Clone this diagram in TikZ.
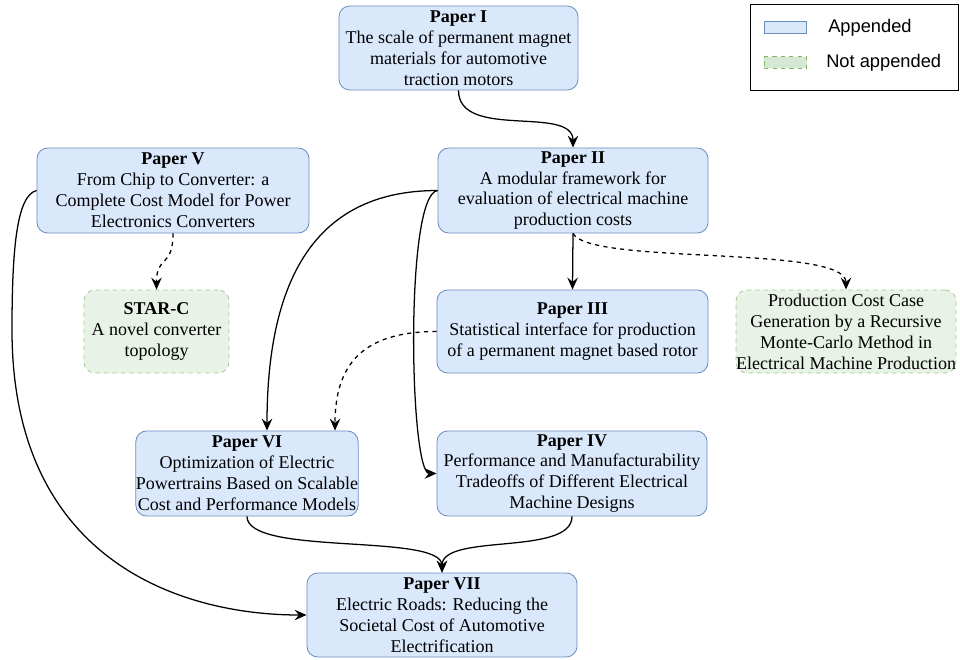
\documentclass[tikz,border=0pt]{standalone}
\usepackage{fontspec}
\setmainfont{Liberation Serif}
\setsansfont{Liberation Sans}
\usepackage{xcolor}
\usepackage{tikz}
\usetikzlibrary{arrows.meta}
\definecolor{appfill}{HTML}{DAE8FC}
\definecolor{appline}{HTML}{6C8EBF}
\definecolor{notfill}{HTML}{E8F2E6}
\definecolor{notline}{HTML}{A3CC8F}
\definecolor{keyfill}{HTML}{D5E8D4}
\definecolor{keyline}{HTML}{82B366}

\begin{document}
\begin{tikzpicture}[x=0.025cm,y=-0.025cm,
		paper/.style={draw=appline,fill=appfill,line width=0.6pt,rounded corners=0.27cm,
			align=center,inner sep=0pt,minimum height=2.125cm,
			font=\fontsize{12.8}{14.9}\selectfont},
		extra/.style={paper,draw=notline,fill=notfill,dashed},
		link/.style={line width=0.9pt,-{Stealth[length=8.5pt,width=7.5pt,inset=3pt]}},
		weak/.style={link,dash pattern=on 3pt off 3pt}]
	\useasboundingbox (0,0) rectangle (960,659);
	% legend
	\draw[line width=0.6pt] (750,4) rectangle (958,90);
	\node[draw=appline,fill=appfill,line width=0.6pt,minimum width=1.07cm,minimum height=0.3cm,inner sep=0pt] (keyapp) at (785.5,27) {};
	\node[draw=keyline,fill=keyfill,dashed,line width=0.6pt,minimum width=1.07cm,minimum height=0.28cm,inner sep=0pt] (keynot) at (785.5,62.5) {};
	\node[anchor=west,font=\sffamily\fontsize{13}{15}\selectfont,inner sep=0pt] (keyapptext) at (828,28) {Appended};
	\node[anchor=west,font=\sffamily\fontsize{13}{15}\selectfont,inner sep=0pt] (keynottext) at (826,63) {Not appended};
	% papers
	\node[paper,minimum width=5.975cm,minimum height=2.1cm] (p1) at (458.5,48) {\textbf{Paper I}\\The scale of permanent magnet\\materials for automotive\\traction motors};
	\node[paper,minimum width=6.75cm] (p2) at (573,190.5) {\textbf{Paper II}\\A modular framework for\\evaluation of electrical machine\\production costs};
	\node[paper,minimum width=6.8cm] (p5) at (173,190.5) {\textbf{Paper V}\\From Chip to Converter: a\\Complete Cost Model for Power\\Electronics Converters};
	\node[extra,minimum width=3.625cm,minimum height=2.075cm] (starc) at (156.5,331.5) {\textbf{STAR-C}\\A novel converter\\topology};
	\node[paper,minimum width=6.775cm,minimum height=2.075cm] (p3) at (572.5,331.5) {\textbf{Paper III}\\Statistical interface for production\\of a permanent magnet based rotor};
	\node[extra,minimum width=5.45cm,minimum height=2.075cm] (case) at (846,331.5) {Production Cost Case\\Generation by a Recursive\\Monte-Carlo Method in\\Electrical Machine Production};
	\node[paper,minimum width=5.5cm] (p6) at (247,473.5) {\textbf{Paper VI}\\Optimization of Electric\\Powertrains Based on Scalable\\Cost and Performance Models};
	\node[paper,minimum width=6.75cm] (p4) at (572,473.5) {\textbf{Paper IV}\\Performance and Manufacturability\\Tradeoffs of Different Electrical\\Machine Designs};
	\node[paper,minimum width=6.75cm,minimum height=2.1cm] (p7) at (442,615) {\textbf{Paper VII}\\Electric Roads: Reducing the\\Societal Cost of Automotive\\Electrification};
	% connections
	\draw[link] (p1.south) .. controls +(0,50) and +(0,-43) .. (p2.north);
	\draw[link] (p2.south) -- (p3.north);
	\draw[weak] (p2.south) .. controls +(17,32) and +(0,-45) .. (case.north);
	\draw[link] (p2.west) .. controls +(-108,0) and +(0,-171) .. ([xshift=0.5cm]p6.north);
	\draw[link] (p2.west) .. controls +(-33,4) and +(-27,0) .. (p4.west);
	\draw[weak] (p3.west) .. controls +(-75,0) and +(0,-65) .. ([xshift=2.2cm]p6.north);
	\draw[weak] (p5.south) .. controls +(0,35) and +(0,-35) .. (starc.north);
	\draw[link] (p5.west) .. controls +(-20,5) and (12,250) .. (12,330) .. controls (12,560) and (180,615) .. (p7.west);
	\draw[link] (p6.south) .. controls +(0,40) and +(0,-40) .. (p7.north);
	\draw[link] (p4.south) .. controls +(0,40) and +(0,-40) .. (p7.north);
\end{tikzpicture}
\end{document}
